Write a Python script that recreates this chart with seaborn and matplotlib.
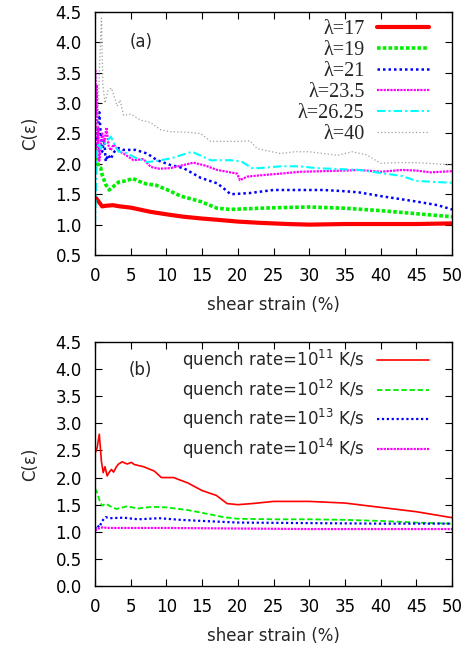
import matplotlib
matplotlib.use("Agg")
import matplotlib.pyplot as plt
import seaborn as sns
import pandas as pd

# ---------------- data: panel (a) ----------------
lam17_x = [0, 0.5, 1.0, 1.5, 2.5, 3.5, 5, 7.8, 10, 12.4, 15, 17.1, 20, 23, 27, 30, 35, 40, 45, 50]
lam17_y = [1.46, 1.38, 1.30, 1.31, 1.32, 1.30, 1.28, 1.21, 1.17, 1.13, 1.10, 1.08, 1.05, 1.03, 1.01, 1.00, 1.01, 1.01, 1.01, 1.02]

lam19_x = [0, 0.2, 0.5, 0.8, 1.0, 1.5, 2.0, 2.6, 3.3, 4.3, 5.3, 6, 7.2, 8.5, 10, 12, 14.8, 17.1, 19, 23, 26, 30, 35, 40, 45, 50]
lam19_y = [2.30, 2.10, 1.95, 1.93, 1.82, 1.66, 1.57, 1.63, 1.70, 1.72, 1.76, 1.72, 1.67, 1.65, 1.58, 1.47, 1.38, 1.27, 1.25, 1.27, 1.28, 1.29, 1.27, 1.23, 1.18, 1.13]

lam21_x = [0.2, 0.4, 0.6, 0.8, 1.0, 1.3, 1.5, 1.8, 2.2, 2.7, 3.3, 4, 5.7, 7.3, 8.7, 10.6, 12.4, 14.8, 17.1, 18, 19, 21.7, 23, 25, 28.7, 32, 35, 37, 40, 45, 48, 50]
lam21_y = [2.30, 2.60, 2.85, 2.50, 2.20, 2.40, 2.04, 2.15, 2.08, 2.20, 2.26, 2.23, 2.23, 2.17, 2.06, 1.98, 1.93, 1.77, 1.68, 1.60, 1.50, 1.52, 1.54, 1.57, 1.57, 1.57, 1.55, 1.53, 1.47, 1.38, 1.32, 1.25]

lam235_x = [0.05, 0.15, 0.25, 0.35, 0.45, 0.6, 0.8, 1.0, 1.3, 1.6, 1.9, 2.2, 2.6, 2.9, 3.5, 4, 5.4, 6.8, 7.8, 9, 10.6, 12, 13.8, 15.5, 17.1, 18.5, 19.9, 20.3, 21.3, 23, 26, 28.7, 32, 35, 37, 40, 43, 45, 47, 50]
lam235_y = [3.55, 2.80, 3.30, 2.20, 2.60, 2.05, 2.30, 2.50, 2.35, 2.60, 2.30, 2.22, 2.32, 2.28, 2.20, 2.17, 2.06, 2.08, 1.95, 1.92, 1.93, 1.97, 2.02, 1.97, 1.90, 1.87, 1.84, 1.73, 1.79, 1.81, 1.84, 1.87, 1.88, 1.89, 1.90, 1.87, 1.90, 1.89, 1.86, 1.88]

lam2625_x = [0, 0.15, 0.3, 0.5, 0.8, 1.0, 1.7, 2.2, 2.7, 3.3, 4, 5.7, 7.3, 8.7, 10.6, 13.6, 16.2, 19, 20.5, 22, 23, 26, 28.7, 31, 35, 37, 40, 43, 45, 48, 50]
lam2625_y = [1.00, 1.60, 2.20, 2.35, 2.25, 2.29, 2.37, 2.45, 2.33, 2.20, 2.20, 2.10, 2.03, 2.05, 2.09, 2.20, 2.06, 2.06, 2.04, 1.93, 1.93, 1.96, 1.96, 1.93, 1.91, 1.90, 1.85, 1.80, 1.72, 1.70, 1.69]

lam40_x = [0.4, 0.6, 0.9, 1.1, 1.4, 1.8, 2.3, 2.7, 3.1, 3.5, 4.0, 5, 6.4, 7.8, 9.2, 10.6, 13, 14.8, 16.2, 19.9, 21.7, 22.7, 26, 28, 30, 32, 34, 36, 38, 40, 42, 45, 48, 50]
lam40_y = [2.60, 3.50, 4.40, 3.30, 3.00, 3.20, 3.25, 3.10, 2.95, 3.05, 2.80, 2.82, 2.72, 2.68, 2.56, 2.53, 2.52, 2.50, 2.37, 2.37, 2.38, 2.25, 2.17, 2.20, 2.20, 2.17, 2.14, 2.20, 2.15, 2.01, 2.02, 2.02, 2.00, 1.98]

labels_a = ["λ=17", "λ=19", "λ=21", "λ=23.5", "λ=26.25", "λ=40"]

# ---------------- data: panel (b) ----------------
q11_x = [0, 0.3, 0.6, 0.9, 1.15, 1.4, 1.7, 2.0, 2.3, 2.6, 3.0, 3.3, 3.8, 4.5, 5.1, 5.5, 6.8, 8.3, 9.3, 11, 13, 15, 17, 18.5, 20, 22, 25, 30, 35, 40, 45, 50]
q11_y = [2.44, 2.55, 2.80, 2.30, 2.09, 2.20, 2.03, 2.10, 2.15, 2.10, 2.20, 2.25, 2.29, 2.25, 2.28, 2.24, 2.20, 2.12, 2.00, 2.00, 1.90, 1.76, 1.67, 1.52, 1.50, 1.52, 1.56, 1.56, 1.53, 1.45, 1.37, 1.26]

q12_x = [0, 0.3, 0.7, 1.0, 1.5, 2.0, 3, 4.5, 6, 8, 10, 13, 15, 18, 20, 25, 30, 35, 40, 45, 50]
q12_y = [1.80, 1.72, 1.55, 1.48, 1.52, 1.48, 1.42, 1.47, 1.43, 1.46, 1.45, 1.40, 1.35, 1.27, 1.24, 1.23, 1.23, 1.22, 1.20, 1.17, 1.15]

q13_x = [0, 0.3, 0.6, 1.0, 1.5, 2, 4, 6, 9, 12, 15, 20, 30, 40, 50]
q13_y = [1.05, 1.12, 1.08, 1.20, 1.27, 1.25, 1.26, 1.23, 1.25, 1.22, 1.20, 1.17, 1.16, 1.15, 1.15]

q14_x = [0, 0.5, 1.0, 2, 5, 10, 20, 30, 40, 50]
q14_y = [1.02, 1.06, 1.08, 1.07, 1.07, 1.07, 1.06, 1.05, 1.05, 1.05]

labels_b = [r"quench rate=10$^{11}$ K/s", r"quench rate=10$^{12}$ K/s",
            r"quench rate=10$^{13}$ K/s", r"quench rate=10$^{14}$ K/s"]

x_ticks = [0, 5, 10, 15, 20, 25, 30, 35, 40, 45, 50]
y_ticks_a = [0.5, 1.0, 1.5, 2.0, 2.5, 3.0, 3.5, 4.0, 4.5]
y_ticks_b = [0.0, 0.5, 1.0, 1.5, 2.0, 2.5, 3.0, 3.5, 4.0, 4.5]

# ---------------- styling ----------------
sns.set_style("ticks")
plt.rcParams["font.family"] = ["DejaVu Sans"]
plt.rcParams["mathtext.fontset"] = "dejavusans"
FS = 12

fig = plt.figure(figsize=(4.71, 6.49), dpi=100)
ax_a = fig.add_axes([95 / 471, 1 - 255 / 649, 357 / 471, 243 / 649])
ax_b = fig.add_axes([95 / 471, 1 - 586 / 649, 357 / 471, 244 / 649])

series_a = [
    (lam17_x, lam17_y, "#ff0000", 3.0, "-"),
    (lam19_x, lam19_y, "#00ee00", 2.6, (0, (1, 0.6))),
    (lam21_x, lam21_y, "#0000ff", 1.8, (0, (1, 1.2))),
    (lam235_x, lam235_y, "#ff00ff", 1.6, (0, (1, 0.5))),
    (lam2625_x, lam2625_y, "#00ffff", 1.5, (0, (4, 1.5, 1, 1.5))),
    (lam40_x, lam40_y, "#a0a0a0", 0.9, (0, (1, 1.8))),
]
for (xs, ys, c, lw, ls), lab in zip(series_a, labels_a):
    df = pd.DataFrame({"x": xs, "y": ys})
    sns.lineplot(data=df, x="x", y="y", ax=ax_a, color=c, linewidth=lw,
                 linestyle=ls, label=lab, estimator=None, sort=False)

series_b = [
    (q11_x, q11_y, "#ff0000", 1.2, "-"),
    (q12_x, q12_y, "#00ee00", 1.3, (0, (3, 1.5))),
    (q13_x, q13_y, "#0000ff", 1.6, (0, (1, 1.2))),
    (q14_x, q14_y, "#ff00ff", 1.6, (0, (1, 0.5))),
]
for (xs, ys, c, lw, ls), lab in zip(series_b, labels_b):
    df = pd.DataFrame({"x": xs, "y": ys})
    sns.lineplot(data=df, x="x", y="y", ax=ax_b, color=c, linewidth=lw,
                 linestyle=ls, label=lab, estimator=None, sort=False)

for ax, yt, ylim in [(ax_a, y_ticks_a, (0.5, 4.5)), (ax_b, y_ticks_b, (0.0, 4.5))]:
    ax.set_xlim(0, 50)
    ax.set_ylim(*ylim)
    ax.set_xticks(x_ticks)
    ax.set_xticklabels([str(t) for t in x_ticks])
    ax.set_yticks(yt)
    ax.set_yticklabels([f"{t:.1f}" for t in yt])
    ax.tick_params(direction="in", length=5, width=0.8, top=True, right=True,
                   labelsize=FS, colors="black")
    ax.tick_params(axis="y", pad=9.5)
    ax.tick_params(axis="x", pad=9)
    for sp in ax.spines.values():
        sp.set_visible(True)
        sp.set_linewidth(1.0)
        sp.set_color("black")
    ax.set_xlabel("shear strain (%)", fontsize=FS, labelpad=7.5)
    ax.set_ylabel("C(ε)", fontsize=FS, labelpad=12)

ax_a.text(6.5, 4.0, "(a)", fontsize=FS, ha="center", va="center")
ax_b.text(6.3, 3.98, "(b)", fontsize=FS, ha="center", va="center")

leg_a = ax_a.legend(loc="upper right", bbox_to_anchor=(0.9356, 0.968), frameon=False,
                    markerfirst=False, borderpad=0, borderaxespad=0,
                    handlelength=2.6, handletextpad=0.6, labelspacing=0.1,
                    prop={"family": "Liberation Serif", "size": 14.5})
leg_b = ax_b.legend(loc="upper right", bbox_to_anchor=(0.9356, 0.975), frameon=False,
                    markerfirst=False, borderpad=0, borderaxespad=0,
                    handlelength=3.1, handletextpad=0.75, labelspacing=0.32,
                    prop={"family": "DejaVu Sans", "size": FS})

fig.savefig("out.png", dpi=100)
